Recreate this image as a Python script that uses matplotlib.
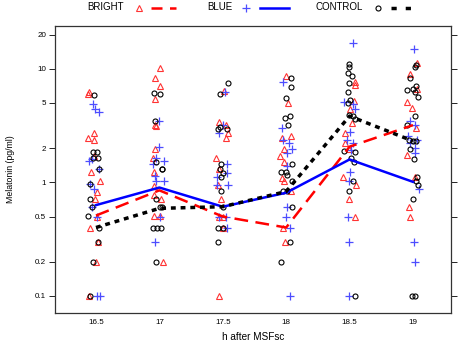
import matplotlib
matplotlib.use('Agg')
import matplotlib.pyplot as plt
from matplotlib.lines import Line2D
from matplotlib.ticker import FixedLocator, NullLocator

plt.rcParams['font.family'] = ['Liberation Sans', 'DejaVu Sans']

# time points and model lines
times = [16.5, 17, 17.5, 18, 18.5, 19]
bright_line = [0.51, 0.85, 0.50, 0.40, 2.06, 3.19]
blue_line = [0.63, 0.90, 0.61, 0.81, 1.59, 1.01]
control_line = [0.40, 0.59, 0.61, 0.83, 3.83, 2.31]

# individual (jittered) observations
bright_x = [16.434, 16.447, 16.434, 16.487, 16.482, 16.482, 16.458, 16.529, 16.508, 16.495, 16.508, 16.453, 16.513, 16.50, 16.442,
            17.003, 16.963, 17.003, 16.968, 16.963, 16.976, 16.963, 16.950, 16.955, 16.958, 16.955, 17.016, 16.955, 17.003, 17.029,
            17.513, 17.474, 17.526, 17.539, 17.526, 17.447, 17.474, 17.461, 17.487, 17.505, 17.474, 17.505, 17.474,
            18.0, 18.016, 18.042, 17.971, 17.982, 17.955, 17.982, 17.971, 17.982, 18.042, 17.976, 17.99,
            18.545, 18.539, 18.532, 18.505, 18.518, 18.466, 18.466, 18.497, 18.447, 18.55, 18.492, 18.539,
            19.034, 18.974, 19.034, 18.955, 18.992, 19.026, 18.95, 19.018, 18.968, 18.974]
bright_y = [6.0, 6.2, 2.47, 2.70, 2.34, 1.70, 1.23, 1.03, 0.83, 0.71, 0.50, 0.40, 0.30, 0.20, 0.10,
            10.2, 8.3, 7.05, 5.37, 3.18, 3.13, 1.95, 1.65, 1.23, 0.93, 0.78, 0.71, 0.505, 0.505, 0.20,
            6.37, 3.37, 3.22, 2.70, 2.47, 1.65, 1.32, 0.95, 0.72, 0.50, 0.50, 0.40, 0.10,
            8.6, 5.0, 2.55, 2.47, 1.95, 1.72, 1.51, 1.10, 1.03, 0.84, 0.40, 0.30,
            7.6, 7.2, 5.2, 4.4, 3.36, 2.7, 2.2, 1.97, 1.12, 0.94, 0.71, 0.5,
            11.2, 9.0, 6.6, 5.1, 4.55, 3.0, 1.75, 1.12, 0.61, 0.50]

control_x = [16.487, 16.479, 16.505, 16.474, 16.513, 16.526, 16.453, 16.453, 16.468, 16.434, 16.521, 16.513, 16.474, 16.453,
             16.955, 17.003, 16.963, 16.971, 17.024, 17.018, 16.971, 17.003, 17.024, 16.95, 16.982, 17.016, 16.976,
             17.539, 17.479, 17.461, 17.482, 17.532, 17.484, 17.479, 17.50, 17.487, 17.487, 17.505, 17.461, 17.505, 17.461,
             18.042, 18.042, 17.997, 17.99, 18.029, 18.016, 18.05, 17.963, 17.997, 18.008, 18.05, 17.976, 18.003, 18.05, 18.029, 17.963,
             18.492, 18.497, 18.484, 18.518, 18.492, 18.484, 18.505, 18.484, 18.492, 18.524, 18.539, 18.453, 18.539, 18.513, 18.532, 18.524, 18.497, 18.545,
             19.026, 19.018, 18.976, 19.026, 19.0, 18.955, 19.013, 19.039, 19.018, 18.955, 18.966, 19.0, 19.026, 18.974, 19.008, 19.034, 19.026, 19.039, 19.0, 18.992, 19.018]
control_y = [5.83, 1.85, 1.85, 1.63, 1.63, 1.32, 0.96, 0.71, 0.61, 0.505, 0.40, 0.30, 0.20, 0.10,
             6.1, 6.0, 3.47, 1.51, 1.32, 1.30, 0.71, 0.607, 0.607, 0.40, 0.40, 0.40, 0.20,
             7.43, 6.03, 2.93, 3.09, 2.93, 1.45, 1.32, 1.2, 1.12, 0.84, 0.607, 0.40, 0.40, 0.30,
             8.3, 6.9, 5.56, 3.66, 3.86, 3.2, 1.46, 1.23, 1.23, 1.17, 1.03, 0.84, 0.84, 0.607, 0.30, 0.20,
             11.1, 10.4, 9.1, 8.7, 7.5, 6.3, 5.3, 5.0, 3.9, 3.8, 3.6, 1.9, 1.85, 1.65, 1.5, 1.03, 0.84, 0.10,
             10.8, 10.4, 8.3, 7.1, 6.6, 6.5, 6.2, 5.6, 3.8, 3.2, 2.34, 2.3, 2.3, 1.97, 1.6, 1.12, 1.03, 0.94, 0.71, 0.10, 0.10]

blue_x = [16.474, 16.495, 16.521, 16.447, 16.468, 16.526, 16.453, 16.487, 16.468, 16.508, 16.505, 16.532,
          17.0, 16.997, 16.976, 17.034, 16.95, 16.968, 16.976, 17.037, 17.008, 16.968,
          17.521, 17.50, 17.474, 17.532, 17.453, 17.532, 17.453, 17.539, 17.474, 17.526, 17.532,
          17.976, 17.971, 17.976, 18.024, 18.05, 18.008, 18.003, 18.003, 17.997, 18.029, 18.034,
          18.524, 18.453, 18.524, 18.539, 18.505, 18.479, 18.524, 18.513, 18.505, 18.492, 18.487, 18.497, 18.497,
          19.008, 18.974, 19.018, 18.96, 19.034, 18.974, 19.018, 19.018, 19.045, 19.008, 19.013]
blue_y = [4.86, 4.45, 4.16, 1.54, 1.62, 1.32, 0.96, 0.88, 0.61, 0.50, 0.10, 0.10,
          3.47, 2.06, 1.65, 1.54, 1.46, 1.13, 1.03, 1.03, 0.50, 0.30,
          6.3, 3.18, 2.74, 1.46, 1.12, 1.2, 0.95, 0.94, 0.5, 0.5, 0.40,
          7.7, 3.01, 2.34, 2.2, 1.95, 1.8, 1.40, 0.607, 0.5, 0.40, 0.10,
          16.7, 5.1, 4.86, 4.4, 2.8, 2.34, 2.2, 1.94, 1.23, 1.03, 0.5, 0.30, 0.10,
          14.8, 3.47, 3.2, 2.55, 2.34, 2.2, 2.0, 1.8, 0.88, 0.30, 0.20]

y_ticks = [0.1, 0.2, 0.5, 1, 2, 5, 10, 20]
y_tick_labels = ['0.1', '0.2', '0.5', '1', '2', '5', '10', '20']
x_tick_labels = ['16.5', '17', '17.5', '18', '18.5', '19']

RED = '#ff0000'
BLUE = '#0000ff'
RED_M = '#ff3333'
BLUE_M = '#4d4dff'
RED_DASH = (5.5, 3)
BLACK_DASH = (1.4, 1.4)

fig = plt.figure(figsize=(4.59, 3.44), dpi=100)
ax = fig.add_axes([55 / 459, 1 - 313 / 344, 396 / 459, 287 / 344])

ax.plot(bright_x, bright_y, linestyle='none', marker='^', markersize=4.6,
        markerfacecolor='none', markeredgecolor=RED_M, markeredgewidth=0.8)
ax.plot(blue_x, blue_y, linestyle='none', marker='+', markersize=6,
        color=BLUE_M, markeredgewidth=0.9)
ax.plot(control_x, control_y, linestyle='none', marker='o', markersize=3.6,
        markerfacecolor='none', markeredgecolor='black', markeredgewidth=0.8)

ax.plot(times, bright_line, color=RED, linewidth=1.8, dashes=RED_DASH)
ax.plot(times, blue_line, color=BLUE, linewidth=1.8)
ax.plot(times, control_line, color='black', linewidth=2.5, dashes=BLACK_DASH)

ax.set_yscale('log')
ax.set_xlim(16.177, 19.30)
ax.set_ylim(0.0707, 23.8)

ax.yaxis.set_major_locator(FixedLocator(y_ticks))
ax.set_yticklabels(y_tick_labels)
ax.yaxis.set_minor_locator(NullLocator())
ax.set_xticks(times)
ax.set_xticklabels(x_tick_labels)

ax.tick_params(axis='y', which='major', direction='out', length=4, width=0.6,
               labelsize=5.8, pad=2.5, right=True, left=True)
ax.tick_params(axis='x', which='major', length=0, labelsize=5.8, pad=4.5)
for s in ax.spines.values():
    s.set_linewidth(0.9)
    s.set_color('#333333')

ax.set_ylabel('Melatonin (pg/ml)', fontsize=6.3)
ax.set_xlabel('h after MSFsc', fontsize=7.2)
ax.yaxis.set_label_coords(-0.101, 0.5)
ax.xaxis.set_label_coords(0.5, -(337 - 313) / 287)
ax.xaxis.label.set_va('center')

# legend drawn above the panel, lattice style
ly = 1 - 7.5 / 344
def fx(px):
    return px / 459

fig.text(fx(87), ly, 'BRIGHT', fontsize=7, va='center', ha='left')
fig.text(fx(207), ly, 'BLUE', fontsize=7, va='center', ha='left')
fig.text(fx(316), ly, 'CONTROL', fontsize=7, va='center', ha='left')

fig.add_artist(Line2D([fx(139)], [ly], transform=fig.transFigure, linestyle='none', marker='^',
                      markersize=4.6, markerfacecolor='none', markeredgecolor=RED_M, markeredgewidth=0.8))
fig.add_artist(Line2D([fx(151), fx(176)], [ly, ly], transform=fig.transFigure, color=RED,
                      linewidth=1.8, dashes=(4.4, 3)))
fig.add_artist(Line2D([fx(246)], [ly], transform=fig.transFigure, linestyle='none', marker='+',
                      markersize=6, color=BLUE_M, markeredgewidth=0.9))
fig.add_artist(Line2D([fx(260), fx(289)], [ly, ly], transform=fig.transFigure, color=BLUE,
                      linewidth=1.8))
fig.add_artist(Line2D([fx(378)], [ly], transform=fig.transFigure, linestyle='none', marker='o',
                      markersize=3.6, markerfacecolor='none', markeredgecolor='black', markeredgewidth=0.8))
fig.add_artist(Line2D([fx(391), fx(416)], [ly, ly], transform=fig.transFigure, color='black',
                      linewidth=2.5, dashes=(1.5, 2.6)))

fig.savefig('out.png', dpi=100)
